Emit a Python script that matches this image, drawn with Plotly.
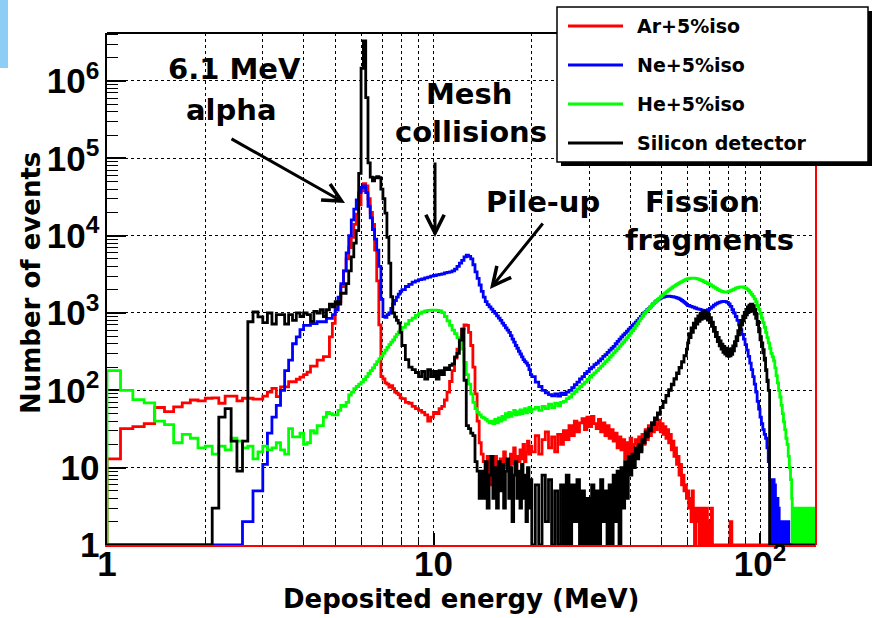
import plotly.graph_objects as go

# ---------------------------------------------------------------------------
# Histogram contents.  Each block is (low edge of first bin [MeV], bin width
# [MeV], counts).  Empty bins are stored as 1 so they rest on the axis floor.
# ---------------------------------------------------------------------------

# Ar + 5% isobutane
AR_LOW = (1.0, 0.1, [13, 32, 34, 37, 60, 53, 61, 69, 75, 73,
                     79, 80, 68, 84, 84, 73, 79, 79, 77, 77,
                     84, 95, 106, 83, 111, 111, 129, 129, 139, 148,
                     160, 172, 205, 205, 245, 245, 272, 272, 490, 735,
                     1100, 1400, 2200, 3500, 5000, 7000, 9500, 14000, 19000, 25000,
                     38000, 47000, 44000, 30000, 20000, 14000, 6500, 2600, 700, 150,
                     140, 125, 120, 110, 115, 105, 95, 92, 88, 80])
AR_MID = (8.0, 0.2, [78, 70, 68, 62, 58, 55, 52, 48, 40, 45,
                     52, 50, 58, 62, 75, 95, 130, 180, 260, 340,
                     460, 620, 700, 690, 560, 380, 200, 90, 40, 21,
                     15, 12, 8, 14, 6, 11, 9, 14, 5, 10,
                     13, 8, 16, 10, 12, 9, 15, 11, 18, 10,
                     14, 12, 17, 13, 20, 12, 16, 22, 15, 19])
AR_HIGH = (20.0, 0.5, [16, 26, 15, 23, 29, 18, 25, 16, 27, 20,
                       30, 23, 35, 26, 40, 29, 38, 43, 31, 45,
                       34, 46, 37, 32, 42, 29, 38, 26, 35, 24,
                       31, 22, 28, 18, 25, 17, 23, 13, 21, 15,
                       24, 12, 20, 23, 14, 25, 17, 27, 20, 31,
                       23, 35, 26, 38, 29, 40, 31, 36, 41, 29,
                       37, 27, 34, 24, 31, 21, 27, 17, 22, 14,
                       18, 11, 14, 8, 11, 6, 8, 5, 6, 4])
AR_TAIL = (60.0, 0.5, [5, 3, 4, 2, 5, 3, 1, 3, 2, 3,
                       1, 3, 1, 2, 3, 1, 1, 3, 1, 1,
                       2, 1, 3, 1])
AR_END = [(72.0, 9.0, [1]), (81.0, 1.0, [2]), (82.0, 66.5, [1])]

# Ne + 5% isobutane
NE_EMPTY = (1.0, 1.6, [1])
NE_LOW = (2.6, 0.1, [2, 2, 5, 5, 11, 28, 45, 64, 100, 180,
                     245, 400, 490, 610, 690, 690, 730, 730, 770, 770,
                     770, 850, 850, 950, 1100, 1600, 2400, 3500, 6000, 10000,
                     16000, 22000, 29000, 36000, 42000, 44000, 36000, 24000, 17000, 12000,
                     9000, 6500, 4000, 1500, 900, 880, 950, 1000, 1150, 1300,
                     1450, 1600, 1750, 1900])
NE_MID = (8.0, 0.2, [2000, 2200, 2350, 2500, 2600, 2700, 2750, 2850, 2900, 3000,
                     3050, 3100, 3150, 3200, 3300, 3350, 3400, 3500, 3700, 4000,
                     4400, 4800, 5300, 5600, 5400, 5000, 4200, 3400, 2800, 2300,
                     1900, 1600, 1400, 1280, 1200, 1120, 1050, 990, 920, 860,
                     800, 740, 690, 640, 600, 560, 510, 460, 420, 380,
                     350, 320, 295, 270, 250, 235, 225, 210, 185, 160])
NE_HIGH = (20.0, 0.5, [150, 128, 112, 100, 93, 88, 85, 90, 84, 92,
                       88, 95, 100, 108, 118, 128, 140, 150, 165, 175,
                       190, 200, 215, 225, 240, 255, 275, 290, 310, 330,
                       350, 370, 400, 430, 460, 490, 520, 550, 580, 620,
                       650, 690, 720, 760, 800, 850, 900, 950, 1000, 1050,
                       1100, 1150, 1200, 1260, 1320, 1380, 1430, 1480, 1520, 1560,
                       1590, 1610, 1630, 1640, 1650, 1650, 1640, 1630, 1620, 1600,
                       1590, 1570, 1550, 1520, 1490, 1450, 1410, 1370, 1330, 1290])
NE_FISSION = (60.0, 1.0, [1250, 1220, 1190, 1160, 1130, 1110, 1090, 1080, 1080, 1100,
                          1150, 1200, 1260, 1310, 1350, 1380, 1400, 1410, 1400, 1370,
                          1310, 1220, 1100, 1000, 900, 800, 700, 610, 530, 460,
                          390, 330, 275, 225, 185, 150, 120, 95, 72, 57,
                          45, 37, 31, 27, 24, 18, 12])
NE_EDGE = (107.0, 0.5, [7, 1, 7, 2, 6, 1, 7, 1, 6, 2,
                        4, 1, 4, 1, 3, 1, 2, 1, 2, 1,
                        2, 1, 2, 1, 2, 1, 2, 1, 2, 1,
                        2, 1])
NE_END = (123.0, 25.5, [1])

# He + 5% isobutane
HE_LOW = (1.0, 0.1, [180, 100, 76, 69, 40, 36, 21, 27, 24, 18,
                     19, 15, 19, 17, 24, 22, 18, 19, 13, 16,
                     19, 17, 18, 21, 17, 15, 32, 25, 25, 28,
                     20, 21, 30, 28, 35, 35, 45, 52, 50, 48,
                     48, 55, 64, 62, 70, 87, 95, 105, 112, 120,
                     128, 138, 150, 165, 180, 195, 215, 235, 255, 275,
                     300, 330, 360, 390, 420, 450, 490, 530, 570, 610])
HE_MID = (8.0, 0.2, [650, 720, 800, 860, 930, 990, 1030, 1060, 1080, 1090,
                     1090, 1080, 1060, 1010, 900, 790, 690, 600, 540, 480,
                     420, 340, 230, 160, 120, 90, 70, 58, 52, 48,
                     45, 44, 42, 40, 38, 40, 37, 42, 38, 44,
                     40, 46, 42, 50, 45, 52, 46, 50, 55, 48,
                     53, 49, 56, 50, 54, 58, 51, 56, 60, 53])
HE_HIGH = (20.0, 0.5, [57, 60, 55, 62, 58, 66, 60, 68, 63, 70,
                       72, 78, 82, 90, 96, 104, 112, 120, 128, 138,
                       148, 158, 168, 180, 192, 205, 220, 235, 250, 268,
                       285, 305, 325, 345, 370, 395, 420, 450, 480, 515,
                       550, 590, 630, 680, 730, 790, 850, 910, 970, 1030,
                       1090, 1140, 1200, 1260, 1320, 1380, 1440, 1500, 1560, 1620,
                       1690, 1750, 1810, 1870, 1930, 1990, 2050, 2110, 2170, 2230,
                       2290, 2350, 2400, 2450, 2500, 2550, 2600, 2650, 2700, 2740])
HE_FISSION = (60.0, 1.0, [2780, 2810, 2820, 2800, 2760, 2700, 2630, 2550, 2470, 2400,
                          2320, 2240, 2160, 2080, 2010, 1950, 1900, 1870, 1860, 1870,
                          1900, 1940, 1990, 2040, 2090, 2130, 2160, 2180, 2180, 2150,
                          2100, 2030, 1950, 1850, 1740, 1640, 1520, 1390, 1250, 1110,
                          980, 860, 750, 650, 560, 480, 410, 350, 300, 270,
                          240, 195, 155, 125, 100, 82, 64, 50, 39, 31,
                          24, 20, 14, 10, 7])
HE_EDGE = (125.0, 0.5, [4, 1, 3, 2, 3, 1, 3, 1, 2, 3,
                        1, 3, 2, 1, 3, 1, 2, 3, 1, 3,
                        1, 2, 3, 1, 3, 2, 1, 3, 1, 2,
                        3, 1, 3, 1, 2, 3, 1, 3, 2, 1,
                        3, 1, 3, 2, 1, 3, 3])

# Silicon detector
SI_EMPTY = (1.0, 1.1, [1])
SI_LOW = (2.1, 0.1, [3, 45, 58, 22, 9, 22, 770, 1030, 890,
                     750, 1000, 720, 950, 950, 720, 950, 800, 1000, 900,
                     1000, 950, 780, 1050, 1000, 1100, 900, 1100, 1300, 1200,
                     1400, 1300, 1800, 1800, 2400, 3500, 5300, 8000, 11600, 64000,
                     1460000, 3300000, 610000, 87000, 57000, 51000, 56000, 58000, 56000, 40000,
                     30000, 19500, 9500, 4400, 1620, 1000, 890, 800, 740, 560])
SI_MID = (8.0, 0.2, [380, 250, 200, 185, 170, 150, 175, 140, 185, 150,
                     175, 140, 180, 160, 195, 185, 210, 220, 270, 300,
                     445, 620, 135, 35, 32, 28, 26, 12, 9, 4,
                     9, 4, 12, 3, 8, 14, 4, 10, 3, 12,
                     5, 11, 3, 9, 13, 4, 10, 2, 8, 12,
                     4, 9, 3, 11, 4, 8, 2, 10, 3, 7])
SI_HIGH = (20.0, 0.5, [1, 6, 1, 8, 2, 7, 1, 5, 1, 6,
                       1, 8, 1, 6, 2, 7, 1, 5, 1, 4,
                       1, 6, 1, 5, 1, 7, 2, 5, 1, 6,
                       1, 8, 2, 9, 1, 10, 3, 12, 4, 14,
                       8, 15, 10, 18, 13, 20, 16, 23, 21, 29,
                       25, 32, 30, 38, 36, 44, 42, 51, 49, 60,
                       60, 72, 70, 86, 85, 102, 100, 120, 118, 142,
                       140, 168, 165, 198, 195, 235, 232, 280, 280, 340])
SI_FISSION = (60.0, 0.5, [410, 540, 480, 640, 560, 740, 640, 840, 720, 920,
                          780, 990, 830, 1030, 850, 1040, 850, 1020, 810, 960,
                          750, 870, 670, 760, 580, 650, 495, 560, 425, 485,
                          375, 435, 340, 395, 310, 370, 295, 350, 280, 340,
                          275, 335, 278, 345, 292, 375, 325, 425, 375, 495,
                          440, 590, 520, 690, 610, 800, 700, 910, 790, 1020,
                          870, 1110, 945, 1200, 1010, 1265, 1050, 1300, 1070, 1300,
                          1050, 1240, 970, 1120, 855, 960, 710, 780, 570, 615,
                          450, 495, 370, 410, 305, 335, 245, 260, 180, 185,
                          130, 135, 100, 100])
SI_END = (107.0, 41.5, [1])

LABELS = ["Ar+5%iso", "Ne+5%iso", "He+5%iso", "Silicon detector"]
COLORS = ["#ff0000", "#0000ff", "#00ff00", "#000000"]


def histogram_steps(*blocks):
    """Turn (start, width, counts) blocks into a closed step outline."""
    xs, ys = [1.0], [1]
    for start, width, counts in blocks:
        for i, c in enumerate(counts):
            xs.append(round(start + i * width, 3))
            ys.append(c)
    start, width, counts = blocks[-1]
    xs.append(round(start + len(counts) * width, 3))
    ys.append(ys[-1])
    return xs, ys


series = [
    histogram_steps(AR_LOW, AR_MID, AR_HIGH, AR_TAIL, *AR_END),
    histogram_steps(NE_EMPTY, NE_LOW, NE_MID, NE_HIGH, NE_FISSION, NE_EDGE, NE_END),
    histogram_steps(HE_LOW, HE_MID, HE_HIGH, HE_FISSION, HE_EDGE),
    histogram_steps(SI_EMPTY, SI_LOW, SI_MID, SI_HIGH, SI_FISSION, SI_END),
]

fig = go.Figure()
for (xs, ys), name, color in zip(series, LABELS, COLORS):
    fig.add_trace(go.Scatter(x=xs, y=ys, mode="lines", name=name,
                             line=dict(shape="hv", color=color, width=2.8),
                             showlegend=False, hoverinfo="x+y+name"))

# frame geometry on the 873 x 618 canvas
PL, PR, PT, PB = 107, 816, 33, 545


def paper(px, py):
    return (px - PL) / (PR - PL), (PB - py) / (PB - PT)


BOLD = dict(family="DejaVu Sans", color="black", weight="bold")
TICKFONT = dict(family="Liberation Sans", size=28, color="black", weight="bold")
grid = dict(showgrid=True, gridcolor="black", gridwidth=1, griddash="dot")

fig.update_layout(
    width=873, height=618,
    margin=dict(l=PL, r=873 - PR, t=PT, b=618 - PB),
    paper_bgcolor="white", plot_bgcolor="white",
    showlegend=False,
    xaxis=dict(type="log", range=[0, 2.1715], dtick=1, exponentformat="power",
               ticks="inside", ticklen=12, tickwidth=1.5, tickcolor="black",
               showline=True, linecolor="red", linewidth=2, zeroline=False,
               layer="below traces", tickfont=TICKFONT, ticklabelstandoff=-12,
               minor=dict(dtick="D1", ticks="inside", ticklen=6, tickwidth=1.2,
                          tickcolor="black", **grid),
               **grid),
    yaxis=dict(type="log", range=[0, 6.62], dtick=1, exponentformat="power",
               ticks="inside", ticklen=19, tickwidth=1.5, tickcolor="black",
               showline=True, linecolor="black", linewidth=2, zeroline=False,
               layer="below traces", tickfont=TICKFONT,
               minor=dict(dtick="D1", ticks="inside", ticklen=11, tickwidth=1.2,
                          tickcolor="black", showgrid=False),
               **grid),
)

shapes = []
# top (black) and right (red) edges of the frame
shapes.append(dict(type="line", xref="paper", yref="paper", x0=0, x1=1, y0=1, y1=1,
                   line=dict(color="black", width=2)))
shapes.append(dict(type="line", xref="paper", yref="paper", x0=1, x1=1, y0=0, y1=1,
                   line=dict(color="red", width=2)))
# slide decoration in the upper-left corner
x0, y0 = paper(0, 0)
x1, y1 = paper(8, 68)
shapes.append(dict(type="rect", xref="paper", yref="paper", x0=x0, x1=x1, y0=y1, y1=y0,
                   fillcolor="#8ecdf5", line=dict(width=0)))

# legend box with drop shadow
sx0, sy0 = paper(561, 11)
sx1, sy1 = paper(872, 166)
shapes.append(dict(type="rect", xref="paper", yref="paper", x0=sx0, x1=sx1, y0=sy1, y1=sy0,
                   fillcolor="black", line=dict(width=0)))
bx0, by0 = paper(557, 7)
bx1, by1 = paper(868, 162)
shapes.append(dict(type="rect", xref="paper", yref="paper", x0=bx0, x1=bx1, y0=by1, y1=by0,
                   fillcolor="white", line=dict(color="black", width=1.5)))

annotations = []
for row, (name, color) in enumerate(zip(LABELS, COLORS)):
    ly = 26 + row * 39
    lx0, lyp = paper(568, ly)
    lx1, _ = paper(623, ly)
    shapes.append(dict(type="line", xref="paper", yref="paper", x0=lx0, x1=lx1,
                       y0=lyp, y1=lyp, line=dict(color=color, width=3)))
    tx, ty = paper(635, ly)
    annotations.append(dict(x=tx, y=ty, xref="paper", yref="paper", text=name,
                            showarrow=False, xanchor="left", yanchor="middle",
                            font=dict(size=19, **BOLD)))

# physics labels
for text, cx, cy in [("6.1 MeV", 234, 69), ("alpha", 231, 110),
                     ("Mesh", 469, 94), ("collisions", 471, 132),
                     ("Pile-up", 543, 202),
                     ("Fission", 702, 202), ("fragments", 709, 240)]:
    px_, py_ = paper(cx, cy)
    annotations.append(dict(x=px_, y=py_, xref="paper", yref="paper", text=text,
                            showarrow=False, xanchor="center", yanchor="middle",
                            font=dict(size=29, **BOLD)))

# arrows: head position and tail offset in pixels
for hx, hy, tx, ty in [(345, 203, 230, 138), (435, 237, 435, 161), (490, 289, 544, 222)]:
    ax_, ay_ = paper(hx, hy)
    annotations.append(dict(x=ax_, y=ay_, xref="paper", yref="paper", text="",
                            showarrow=True, arrowhead=5, arrowsize=1.2, arrowwidth=3,
                            arrowcolor="black", ax=tx - hx, ay=ty - hy, standoff=0))

# axis titles
xt, yt = paper(461, 599)
annotations.append(dict(x=xt, y=yt, xref="paper", yref="paper",
                        text="Deposited energy (MeV)", showarrow=False,
                        xanchor="center", yanchor="middle", font=dict(size=26, **BOLD)))
xt, yt = paper(31, 283)
annotations.append(dict(x=xt, y=yt, xref="paper", yref="paper",
                        text="Number of events", showarrow=False, textangle=-90,
                        xanchor="center", yanchor="middle", font=dict(size=26, **BOLD)))

fig.update_layout(shapes=shapes, annotations=annotations)
fig.write_html("out.html")
